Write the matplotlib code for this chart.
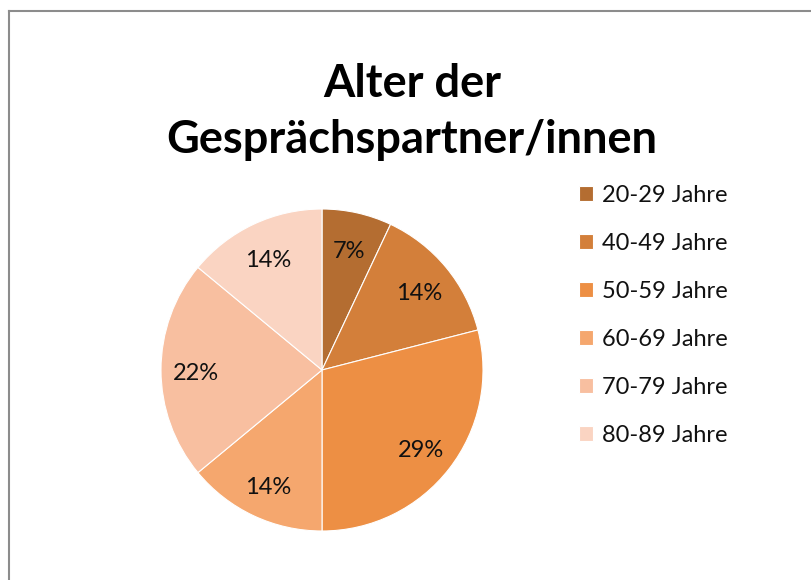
import matplotlib
matplotlib.use("Agg")
import matplotlib.pyplot as plt
from matplotlib.lines import Line2D
from matplotlib.transforms import offset_copy

categories = ["20-29 Jahre", "40-49 Jahre", "50-59 Jahre", "60-69 Jahre", "70-79 Jahre", "80-89 Jahre"]
values = [7, 14, 29, 14, 22, 14]
colors = ["#B46D31", "#D37F3A", "#ED8F44", "#F5A76E", "#F8BFA0", "#FAD4C2"]
title = "Alter der\nGesprächspartner/innen"

plt.rcParams['font.family'] = ['Lato', 'DejaVu Sans']

W, H = 811, 580
fig = plt.figure(figsize=(W / 100, H / 100), dpi=100)
fig.patch.set_facecolor("white")

cx, cy, r = 322, 370, 161
ax = fig.add_axes([(cx - r) / W, (H - cy - r) / H, 2 * r / W, 2 * r / H])
wedges, texts, autotexts = ax.pie(
    values, colors=colors, startangle=90, counterclock=False,
    autopct=lambda p: f"{p:.0f}%", pctdistance=0.78,
    wedgeprops=dict(edgecolor="white", linewidth=0.8),
    textprops=dict(fontsize=17, color="#111111"))
for t in autotexts:
    t.set_transform(offset_copy(ax.transData, fig=fig, x=0, y=-4, units="dots"))
ax.set_xlim(-1, 1)
ax.set_ylim(-1, 1)
ax.set_aspect("equal")
ax.axis("off")

fig.text(412 / W, 1 - 112 / H, title, ha="center", va="center",
         fontsize=32.5, fontweight="bold", linespacing=1.4, color="black")

leg = fig.legend(wedges, categories, loc="upper left",
                 bbox_to_anchor=(558 / W, 1 - 164 / H), frameon=False,
                 fontsize=17, handlelength=0.6, handleheight=0.6,
                 handletextpad=0.38, labelspacing=1.14)
for t in leg.get_texts():
    t.set_color("#111111")

# chart frame (only top/left visible in crop)
fig.add_artist(Line2D([9 / W, 1], [1 - 11 / H, 1 - 11 / H], color="#8C8C8C", lw=1.5,
                      transform=fig.transFigure))
fig.add_artist(Line2D([9 / W, 9 / W], [0, 1 - 11 / H], color="#8C8C8C", lw=1.5,
                      transform=fig.transFigure))

fig.savefig("out.png", dpi=100)
